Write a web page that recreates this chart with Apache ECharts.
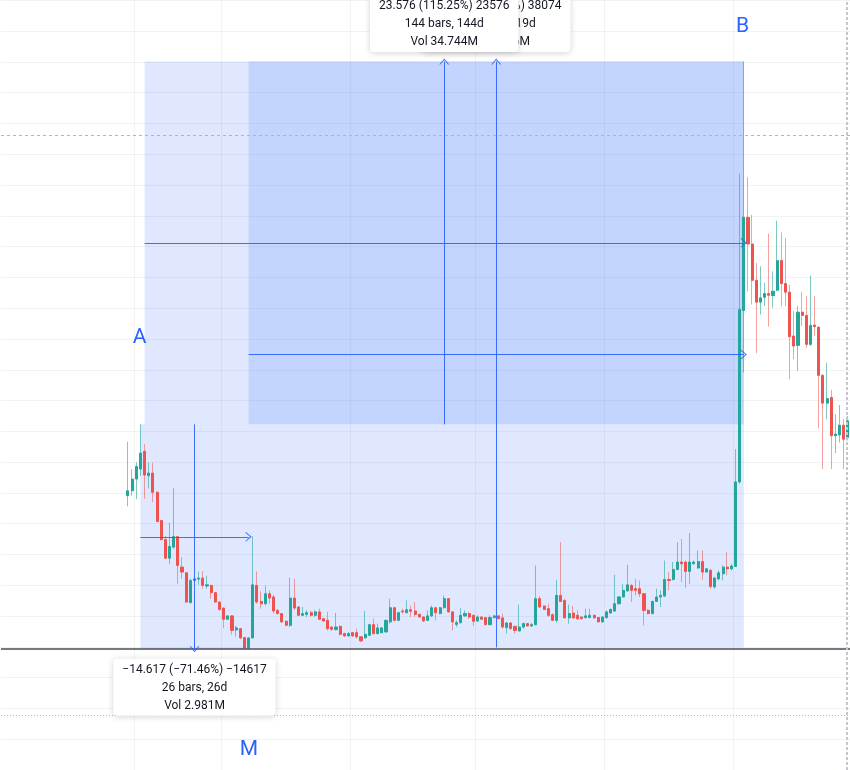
<!DOCTYPE html>
<html><head><meta charset="utf-8">
<script src="https://cdn.jsdelivr.net/npm/echarts@6/dist/echarts.min.js"></script>
<style>html,body{margin:0;padding:0;background:#fff;}#chart{width:850px;height:770px;}</style>
</head><body><div id="chart"></div>
<script>
// ---- data ----
const PAD = 30;            // empty daily slots left of the first visible candle
const TOTAL_SLOTS = 204;   // daily slots across the visible time range
const opens = [15.82,16.14,16.90,17.55,18.70,17.12,17.29,16.04,14.20,12.97,
 11.76,12.48,13.16,11.18,10.81,8.87,10.31,10.40,10.47,9.95,
 9.99,9.52,8.91,8.52,7.79,8.01,7.10,7.18,6.60,5.93,
 6.58,9.99,8.95,8.80,9.45,9.24,8.37,8.16,7.66,7.40,
 9.17,8.59,8.05,8.11,8.22,8.05,8.27,7.83,7.72,7.29,
 7.12,7.33,6.86,6.71,6.92,6.92,6.65,6.58,6.75,7.44,
 6.86,6.92,6.97,7.62,8.54,7.72,8.33,8.22,8.41,8.33,
 8.11,7.94,7.72,8.01,8.54,8.16,8.54,9.13,8.27,7.46,
 7.57,8.01,8.16,8.05,7.68,7.94,7.90,7.44,7.90,8.01,
 7.88,7.25,7.55,7.33,7.03,7.29,7.51,7.36,7.44,9.13,
 8.65,8.48,8.09,7.72,9.34,9.02,7.88,8.20,8.05,7.94,
 7.90,7.90,8.05,7.90,7.62,7.90,8.20,8.33,8.80,9.24,
 9.63,9.99,9.78,9.78,9.45,8.37,8.16,8.95,9.24,9.30,
 10.38,10.38,11.03,11.51,11.51,10.90,11.40,11.12,11.54,10.86,
 10.97,9.89,10.42,10.75,11.18,11.07,11.22,16.71,27.85,33.90,
 32.17,29.81,28.39,28.71,28.95,28.82,29.17,31.09,29.60,29.04,
 26.19,25.58,27.74,27.53,25.65,26.90,26.77,23.64,21.83,22.20,
 19.71,19.77,20.40,19.60];
const closes = [16.14,16.90,17.72,18.59,17.16,17.29,16.04,14.14,12.97,11.76,
 12.52,13.16,11.29,10.86,8.91,10.31,10.42,10.47,9.99,10.03,
 9.52,8.91,8.43,7.79,8.01,7.07,7.23,6.58,5.93,6.58,
 10.03,8.91,8.80,9.45,9.17,8.33,8.16,7.62,7.40,9.17,
 8.52,8.05,8.16,8.22,8.05,8.27,7.79,7.68,7.18,7.14,
 7.29,6.81,6.71,6.86,6.71,6.65,6.39,6.81,7.44,6.86,
 7.23,7.23,7.72,8.54,7.72,8.22,8.27,8.41,8.31,8.11,
 7.94,7.68,8.01,8.54,8.22,8.54,9.13,8.27,7.62,7.57,
 8.05,8.16,7.94,7.66,7.94,7.79,7.44,7.90,8.01,7.83,
 7.29,7.55,7.18,7.07,7.29,7.51,7.36,7.44,9.13,8.59,
 8.43,8.05,7.72,9.34,8.95,7.88,8.16,7.88,7.83,7.83,
 8.01,8.05,7.88,7.62,7.94,8.27,8.43,8.80,9.24,9.67,
 10.03,9.67,9.67,9.45,8.37,8.16,8.95,9.24,9.34,10.38,
 10.31,11.03,11.51,11.40,10.90,11.51,11.51,11.54,10.86,11.07,
 9.92,10.47,10.81,11.18,11.07,11.25,16.71,27.92,33.90,32.17,
 29.81,28.39,28.67,28.95,28.84,29.10,31.09,29.60,29.04,26.15,
 25.54,27.74,27.53,25.65,26.88,26.80,23.64,21.83,22.13,19.71,
 19.82,20.40,19.49,20.68];
const lows = [15.13,15.82,15.60,17.10,15.61,16.30,15.39,14.10,12.90,11.70,
 11.40,12.37,10.10,10.42,8.85,8.83,10.28,10.03,9.78,9.78,
 9.13,8.87,8.35,7.23,7.75,6.80,6.65,6.50,5.90,5.84,
 6.55,8.80,8.48,8.69,8.80,8.16,8.10,7.55,7.33,7.29,
 8.37,8.00,8.00,7.94,7.94,7.94,7.75,7.62,7.07,7.03,
 7.07,6.75,6.65,6.68,6.65,6.54,6.30,6.54,6.70,6.80,
 6.80,6.88,6.92,7.51,7.66,7.68,8.16,8.16,7.94,7.94,
 7.90,7.62,7.68,7.94,7.72,8.11,8.48,8.22,7.07,7.29,
 7.51,7.94,7.83,7.36,7.62,7.75,7.40,7.40,7.85,7.79,
 7.18,6.86,7.12,6.86,7.01,7.18,7.33,7.29,7.40,8.52,
 8.40,7.94,7.68,7.57,8.91,7.83,7.51,7.83,7.75,7.79,
 7.83,7.88,7.85,7.57,7.57,7.83,8.16,8.27,8.74,9.20,
 9.60,8.91,9.34,9.24,7.40,8.10,8.11,8.91,8.59,9.24,
 9.67,10.31,10.97,10.21,9.82,10.10,11.35,11.07,10.36,10.81,
 9.78,9.78,10.31,10.31,10.64,10.97,11.20,16.60,23.83,29.10,
 28.24,25.07,27.59,28.13,26.80,28.03,29.10,28.13,28.13,23.38,
 24.68,23.92,26.83,25.43,25.54,26.19,20.19,17.55,20.79,17.55,
 18.59,19.28,17.55,19.40];
const highs = [19.32,17.55,18.00,20.46,19.17,17.98,17.98,16.10,14.25,13.22,
 14.05,16.30,13.20,11.83,10.85,10.42,10.50,10.90,10.92,10.62,
 10.03,9.55,8.95,8.55,8.05,8.05,7.36,7.22,6.65,6.62,
 13.19,10.90,9.60,9.99,9.67,9.38,8.45,8.20,7.72,10.49,
 10.42,8.65,8.59,8.37,8.35,8.37,8.48,7.88,8.27,7.33,
 8.20,7.40,6.92,6.97,6.97,7.18,6.68,8.33,7.50,7.83,
 7.51,7.29,7.79,9.13,8.59,8.27,8.48,9.02,8.69,8.91,
 8.16,7.98,8.37,8.69,8.59,8.59,9.34,9.17,8.31,7.72,
 8.52,8.37,8.27,8.09,8.05,7.98,7.94,8.05,8.05,8.05,
 8.16,7.62,7.60,7.36,8.74,7.57,7.55,7.55,11.29,9.30,
 8.70,8.80,8.16,10.36,12.80,9.10,8.74,8.65,8.37,7.98,
 8.48,8.48,8.09,7.94,7.98,8.37,8.48,10.68,9.30,10.10,
 11.33,10.10,10.42,10.31,9.50,8.45,9.00,9.78,9.67,11.61,
 10.86,11.51,12.80,13.01,11.60,13.40,11.60,12.26,12.26,11.12,
 11.07,10.55,10.97,11.29,12.15,11.40,18.85,36.73,44.03,36.51,
 34.07,30.94,30.72,29.65,32.84,30.40,33.68,32.92,32.56,29.54,
 27.81,28.13,29.04,28.78,30.12,28.78,26.80,23.70,24.46,22.70,
 21.11,21.70,20.79,21.00];
// slots where a vertical time grid line starts
const timeGridSlots = [32, 53, 84, 114, 145, 176];
// price scale
const priceMin = -2, priceMax = 48, priceStep = 2;
// date & price range measurements (bar indices and prices)
const measureFrom   = [29, 4, 3];
const measureTo     = [148, 148, 29];
const measureP1     = [5.957, 20.457, 20.455];
const measureP2     = [44.031, 44.031, 5.838];
const measureText = [
  '38.074 (639.15%) 38074\n119 bars, 119d\nVol 31.846M',
  '23.576 (115.25%) 23576\n144 bars, 144d\nVol 34.744M',
  '\u221214.617 (\u221271.46%) \u221214617\n26 bars, 26d\nVol 2.981M'
];
// text notes
const noteText  = ['A', 'B', 'M'];
const noteBar   = [2.8, 147.7, 29.1];
const notePrice = [26.06, 46.25, -0.66];
// horizontal reference levels
const levelPrice = [39.25, 5.88, 1.57];
const cursorBar = 172.6;

// ---- chart ----
const UP = '#26a69a', DOWN = '#ef5350', BLUE = '#2962ff', GRID = 'rgba(42,46,57,0.06)';
const FONT = 'Roboto, "Noto Sans", sans-serif';
const slots = Array.from({length: TOTAL_SLOTS}, (_, i) => 'D' + i);
const full = slots.map((_, i) => { const k = i - PAD; return (k >= 0 && k < opens.length) ? [opens[k], closes[k], lows[k], highs[k]] : '-'; });
const bodies = slots.map((_, i) => { const k = i - PAD; return (k >= 0 && k < opens.length) ? [opens[k], closes[k], Math.min(opens[k], closes[k]), Math.max(opens[k], closes[k])] : '-'; });
const bx = k => k + PAD;

const chevron = 'path://M0,60 L50,0 L100,60 L88,60 L50,15 L12,60 Z';

const boxAreas = measureFrom.map((f, i) => [
  {coord: [bx(f), measureP1[i]]}, {coord: [bx(measureTo[i]), measureP2[i]]}
]);
const arrowLines = [];
measureFrom.forEach((f, i) => {
  const t = measureTo[i], p1 = measureP1[i], p2 = measureP2[i];
  const mid = (p1 + p2) / 2, cx = (bx(f) + bx(t)) / 2;
  arrowLines.push([{coord: [bx(f), mid]}, {coord: [bx(t), mid]}]);
  arrowLines.push([{coord: [cx, p1]}, {coord: [cx, p2]}]);
});
const levelStyles = [
  {color: '#b2b5be', width: 1, type: [3, 3]},
  {color: '#4a4d57', width: 1.5, type: 'solid'},
  {color: 'rgba(38,166,154,0.55)', width: 1, type: [1, 2]}
];
const levelLines = levelPrice.map((p, i) => ({yAxis: p, lineStyle: levelStyles[i]}));
levelLines.push({xAxis: bx(cursorBar), lineStyle: {color: '#c3c6ce', width: 2, type: [3, 2]}});

function measureLabel(i) {
  const up = measureP2[i] > measureP1[i];
  return {
    coord: [(bx(measureFrom[i]) + bx(measureTo[i])) / 2, measureP2[i]],
    label: {
      show: true, position: up ? 'top' : 'bottom', distance: 9,
      formatter: measureText[i], align: 'center',
      color: '#131722', fontSize: 12, fontFamily: FONT, lineHeight: 18,
      backgroundColor: '#ffffff', borderRadius: 4, padding: [2, 9, 1, 9],
      shadowBlur: 6, shadowColor: 'rgba(0,0,0,0.18)', shadowOffsetY: 1
    }
  };
}

const option = {
  animation: false,
  backgroundColor: '#ffffff',
  grid: {left: 1, right: -1, top: 0.3, bottom: -2.05},
  xAxis: [
    {type: 'category', data: slots, boundaryGap: true,
     axisLine: {show: false}, axisTick: {show: false}, axisLabel: {show: false},
     splitLine: {show: true, interval: (i) => timeGridSlots.includes(i), lineStyle: {color: GRID, width: 1}}},
    {type: 'value', min: -0.5, max: TOTAL_SLOTS - 0.5, show: false}
  ],
  yAxis: {type: 'value', min: priceMin, max: priceMax, interval: priceStep,
    axisLine: {show: false}, axisTick: {show: false}, axisLabel: {show: false},
    splitLine: {show: true, lineStyle: {color: GRID, width: 1}}},
  series: [
    {type: 'line', xAxisIndex: 1, data: [], z: 1, silent: true,
     markArea: {silent: true, itemStyle: {color: 'rgba(41,98,255,0.15)', borderWidth: 0}, data: boxAreas}},
    {type: 'candlestick', data: full, z: 2, silent: true, barWidth: 1,
     itemStyle: {color: 'rgba(0,0,0,0)', color0: 'rgba(0,0,0,0)',
       borderColor: 'rgba(38,166,154,0.6)', borderColor0: 'rgba(239,83,80,0.55)', borderColorDoji: 'rgba(38,166,154,0.6)', borderWidth: 1}},
    {type: 'candlestick', data: bodies, z: 3, silent: true, barWidth: 2.6,
     itemStyle: {color: UP, color0: DOWN, borderColor: UP, borderColor0: DOWN, borderColorDoji: UP, borderWidth: 1}},
    {type: 'line', xAxisIndex: 1, data: [], z: 4, silent: true,
     markLine: {silent: true, symbol: 'none', label: {show: false}, animation: false, data: levelLines}},
    {type: 'line', xAxisIndex: 1, data: [], z: 5, silent: true,
     markLine: {silent: true, symbol: ['none', chevron], symbolSize: [10, 6], label: {show: false},
       lineStyle: {color: BLUE, width: 1, type: 'solid', opacity: 0.9}, data: arrowLines}},
    {type: 'line', xAxisIndex: 1, data: [], z: 6, silent: true,
     markPoint: {silent: true, symbol: 'circle', symbolSize: 1, itemStyle: {color: 'rgba(0,0,0,0)'},
       data: [measureLabel(0)]}},
    {type: 'line', xAxisIndex: 1, data: [], z: 7, silent: true,
     markPoint: {silent: true, symbol: 'circle', symbolSize: 1, itemStyle: {color: 'rgba(0,0,0,0)'},
       data: [measureLabel(1), measureLabel(2)].concat(noteText.map((t, i) => ({
         coord: [bx(noteBar[i]), notePrice[i]],
         label: {show: true, position: 'inside', formatter: t, color: BLUE, fontSize: 21, fontFamily: FONT}
       })))}}
  ]
};
const chart = echarts.init(document.getElementById('chart'));
chart.setOption(option);
</script></body></html>
